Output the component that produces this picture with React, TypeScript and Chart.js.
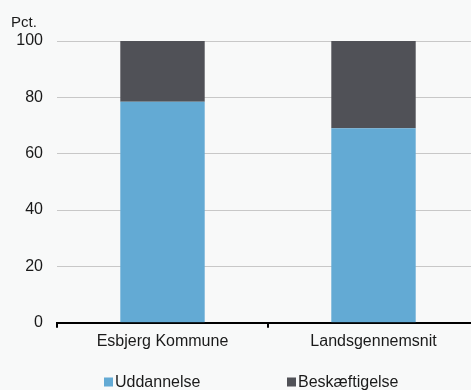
import React, { useEffect, useRef } from "react";
import { Chart, registerables } from "chart.js";

Chart.register(...registerables);

const categories = ["Esbjerg Kommune", "Landsgennemsnit"];
const uddannelse = [78.4, 69.0];
const beskaeftigelse = [21.6, 31.0];
const seriesNames = ["Uddannelse", "Beskæftigelse"];
const seriesColors = ["#63aad4", "#505157"];
const yTicks = [0, 20, 40, 60, 80, 100];
const yTitle = "Pct.";

const FONT = "'Liberation Sans', Arial, Helvetica, sans-serif";

const legendPlugin = {
  id: "customLegend",
  afterDraw(chart: any) {
    const ctx = chart.ctx;
    const boxXs = [104, 287];
    const y = 382;
    ctx.save();
    ctx.font = `16px ${FONT}`;
    ctx.textBaseline = "middle";
    ctx.textAlign = "left";
    chart.data.datasets.forEach((ds: any, i: number) => {
      ctx.fillStyle = ds.backgroundColor;
      ctx.fillRect(boxXs[i], y - 4.5, 9, 9);
      ctx.fillStyle = "#1a1a1a";
      ctx.fillText(ds.label, boxXs[i] + 11, y + 0.5);
    });
    ctx.restore();
  },
};

export default function App() {
  const ref = useRef<HTMLCanvasElement | null>(null);
  useEffect(() => {
    if (!ref.current) return;
    Chart.defaults.font.family = FONT;
    const chart = new Chart(ref.current, {
      type: "bar",
      data: {
        labels: categories,
        datasets: [
          { label: seriesNames[0], data: uddannelse, backgroundColor: seriesColors[0], borderWidth: 0 },
          { label: seriesNames[1], data: beskaeftigelse, backgroundColor: seriesColors[1], borderWidth: 0 },
        ],
      },
      options: {
        animation: false,
        responsive: false,
        events: [],
        layout: { padding: { left: 11, top: 0, right: 0, bottom: 35 } },
        datasets: { bar: { categoryPercentage: 0.8, barPercentage: 0.5 } } as any,
        plugins: {
          legend: { display: false },
          tooltip: { enabled: false },
          title: {
            display: true,
            text: yTitle,
            align: "start",
            color: "#1a1a1a",
            font: { size: 15, weight: "normal" as any },
            padding: { top: 14, bottom: 9 },
          },
        },
        scales: {
          x: {
            stacked: true,
            grid: {
              drawOnChartArea: false,
              color: "#000",
              lineWidth: 2,
              tickLength: 5,
              offset: true,
            },
            border: { display: true, color: "#000", width: 2 },
            ticks: { color: "#1a1a1a", font: { size: 16 }, padding: 4, maxRotation: 0 },
          },
          y: {
            stacked: true,
            min: 0,
            max: 100,
            afterBuildTicks: (scale: any) => {
              scale.ticks = yTicks.map((v) => ({ value: v }));
            },
            afterFit: (scale: any) => {
              scale.width = 46;
            },
            grid: { color: "#c8c8c8", lineWidth: 1, drawTicks: false },
            border: { display: false },
            ticks: { color: "#1a1a1a", font: { size: 16 }, padding: 14 },
          },
        },
      },
      plugins: [legendPlugin],
    });
    return () => chart.destroy();
  }, []);
  return (
    <div
      style={{
        position: "fixed",
        left: 0,
        top: 0,
        width: 471,
        height: 390,
        overflow: "hidden",
        background: "#f8f9f9",
      }}
    >
      <canvas ref={ref} width={479} height={390} style={{ display: "block" }} />
    </div>
  );
}
